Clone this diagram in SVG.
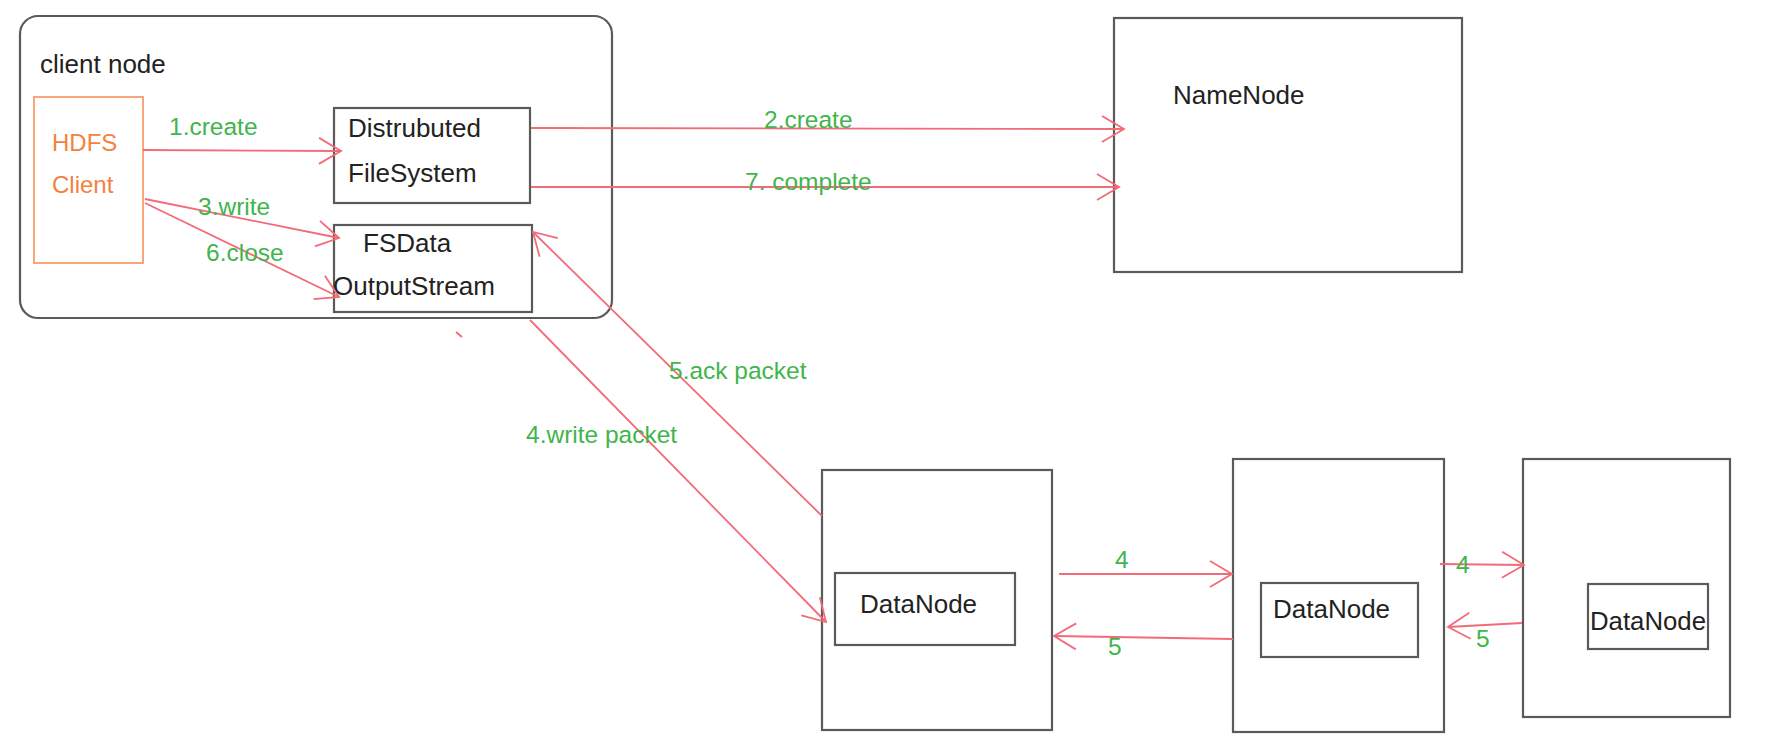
<svg xmlns="http://www.w3.org/2000/svg" width="1780" height="752" viewBox="0 0 1780 752">
<style>
  .box { fill: #ffffff; stroke: #5a5a5a; stroke-width: 2.2; }
  .lbl { font-family: "Liberation Sans", Arial, sans-serif; font-size: 26px; fill: #222222; }
  .orange { font-family: "Liberation Sans", Arial, sans-serif; font-size: 24px; fill: #f5813f; }
  .green { font-family: "Liberation Sans", Arial, sans-serif; font-size: 24.5px; fill: #3fb54c; }
  .conn { stroke: #f26b78; stroke-width: 1.8; fill: none; marker-end: url(#arr); }
</style>
<defs>
  <marker id="arr" viewBox="0 0 26 30" refX="24" refY="15" markerWidth="26" markerHeight="30" markerUnits="userSpaceOnUse" orient="auto">
    <path d="M2,2 L24,15 L2,28" fill="none" stroke="#f26b78" stroke-width="1.8"/>
  </marker>
</defs>
<rect width="1780" height="752" fill="#ffffff"/>

<g id="client-node">
  <rect x="20" y="16" width="592" height="302" rx="18" ry="18" fill="#ffffff" stroke="#5a5a5a" stroke-width="2.2"/>
  <text class="lbl" x="40" y="73">client node</text>
</g>

<g id="hdfs-client">
  <rect x="34" y="97" width="109" height="166" fill="#ffffff" stroke="#f8a77a" stroke-width="2"/>
  <text class="orange" x="52" y="151">HDFS</text>
  <text class="orange" x="52" y="193">Client</text>
</g>

<g id="distributed-filesystem">
  <rect class="box" x="334" y="108" width="196" height="95"/>
  <text class="lbl" x="348" y="137">Distrubuted</text>
  <text class="lbl" x="348" y="182">FileSystem</text>
</g>

<g id="fsdata-outputstream">
  <rect class="box" x="334" y="225" width="198" height="87"/>
  <text class="lbl" x="363" y="252">FSData</text>
  <text class="lbl" x="333" y="295">OutputStream</text>
</g>

<g id="namenode">
  <rect class="box" x="1114" y="18" width="348" height="254"/>
  <text class="lbl" x="1173" y="104">NameNode</text>
</g>

<g id="datanode-1">
  <rect class="box" x="822" y="470" width="230" height="260"/>
  <rect class="box" x="835" y="573" width="180" height="72"/>
  <text class="lbl" x="860" y="613">DataNode</text>
</g>

<g id="datanode-2">
  <rect class="box" x="1233" y="459" width="211" height="273"/>
  <rect class="box" x="1261" y="583" width="157" height="74"/>
  <text class="lbl" x="1273" y="618">DataNode</text>
</g>

<g id="datanode-3">
  <rect class="box" x="1523" y="459" width="207" height="258"/>
  <rect class="box" x="1588" y="584" width="120" height="65"/>
  <text class="lbl" x="1590" y="630" textLength="116" lengthAdjust="spacingAndGlyphs">DataNode</text>
</g>

<g id="connectors">
  <line class="conn" x1="143" y1="150" x2="341" y2="151"/>
  <line class="conn" x1="531" y1="128" x2="1124" y2="129"/>
  <line class="conn" x1="531" y1="187" x2="1119" y2="187"/>
  <line class="conn" x1="145" y1="199" x2="339" y2="238"/>
  <line class="conn" x1="145" y1="203" x2="339" y2="297"/>
  <line class="conn" x1="530" y1="320" x2="826" y2="622"/>
  <line class="conn" x1="822" y1="516" x2="533" y2="232"/>
  <line class="conn" x1="1059" y1="574" x2="1232" y2="574"/>
  <line class="conn" x1="1233" y1="639" x2="1054" y2="636"/>
  <line class="conn" x1="1440" y1="564" x2="1524" y2="565"/>
  <line class="conn" x1="1522" y1="623" x2="1448" y2="627"/>
  <line x1="456" y1="332" x2="462" y2="337" stroke="#f26b78" stroke-width="2"/>

  <text class="green" x="169" y="135">1.create</text>
  <text class="green" x="764" y="128">2.create</text>
  <text class="green" x="745" y="190">7. complete</text>
  <text class="green" x="198" y="215">3.write</text>
  <text class="green" x="206" y="261">6.close</text>
  <text class="green" x="669" y="379">5.ack packet</text>
  <text class="green" x="526" y="443">4.write packet</text>
  <text class="green" x="1115" y="568">4</text>
  <text class="green" x="1108" y="655">5</text>
  <text class="green" x="1456" y="573">4</text>
  <text class="green" x="1476" y="647">5</text>
</g>
</svg>
